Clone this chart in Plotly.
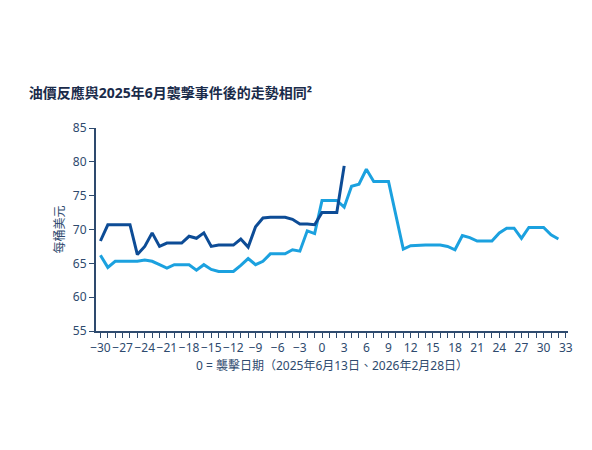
import plotly.graph_objects as go

days_2025 = list(range(-30, 4))
oil_2025 = [68.3, 70.7, 70.7, 70.7, 70.7, 66.3, 67.5, 69.5, 67.5, 68.0, 68.0, 68.0,
            69.0, 68.7, 69.5, 67.5, 67.7, 67.7, 67.7, 68.6, 67.4, 70.4, 71.7, 71.8,
            71.8, 71.8, 71.5, 70.8, 70.8, 70.7, 72.5, 72.5, 72.5, 79.4]

days_2026 = list(range(-30, 33))
oil_2026 = [66.2, 64.4, 65.3, 65.3, 65.3, 65.3, 65.5, 65.3, 64.8, 64.3, 64.8, 64.8,
            64.8, 64.0, 64.8, 64.1, 63.8, 63.8, 63.8, 64.7, 65.7, 64.8, 65.3, 66.4,
            66.4, 66.4, 67.0, 66.8, 69.8, 69.4, 74.3, 74.3, 74.3, 73.3, 76.4, 76.7,
            78.9, 77.1, 77.1, 77.1, 72.1, 67.1, 67.6, 67.7, 67.7, 67.7, 67.7, 67.5,
            67.0, 69.1, 68.8, 68.3, 68.3, 68.3, 69.5, 70.2, 70.2, 68.7, 70.3, 70.3,
            70.3, 69.2, 68.6]

x_ticks = list(range(-30, 34, 3))
y_ticks = list(range(55, 86, 5))

axis_col = "#2e4a6e"
font = "Noto Sans, Noto Sans CJK TC, sans-serif"

fig = go.Figure()
fig.add_trace(go.Scatter(x=days_2026, y=oil_2026, mode="lines",
                         line=dict(color="#1ba1df", width=3)))
fig.add_trace(go.Scatter(x=days_2025, y=oil_2025, mode="lines",
                         line=dict(color="#0d4c96", width=3)))

fig.update_layout(
    width=592, height=450,
    paper_bgcolor="white", plot_bgcolor="white",
    showlegend=False,
    margin=dict(l=88, r=32, t=120, b=127),
    font=dict(family=font, color=axis_col, size=12),
    title=dict(text="<b>油價反應與2025年6月襲擊事件後的走勢相同²</b>",
               x=0.035, xanchor="left", y=0.8, yanchor="bottom",
               font=dict(size=14, color="#1a2b4a")),
)
fig.update_xaxes(range=[-30.6, 33.3], tickvals=x_ticks, tickangle=0, showgrid=False,
                 zeroline=False, showline=True, linecolor=axis_col, linewidth=2,
                 ticks="outside", tickcolor=axis_col, ticklen=5,
                 tickfont=dict(size=12),
                 minor=dict(dtick=1, ticks="outside", ticklen=5, tickcolor=axis_col),
                 title=dict(text="0 = 襲擊日期（2025年6月13日、2026年2月28日）",
                            font=dict(size=12), standoff=6))
fig.update_yaxes(range=[55, 85], tickvals=y_ticks, showgrid=False, zeroline=False,
                 showline=True, linecolor=axis_col, linewidth=2,
                 ticks="outside", tickcolor=axis_col, ticklen=5,
                 title=dict(text="每桶美元", font=dict(size=12), standoff=6))

fig.write_html("out.html")
